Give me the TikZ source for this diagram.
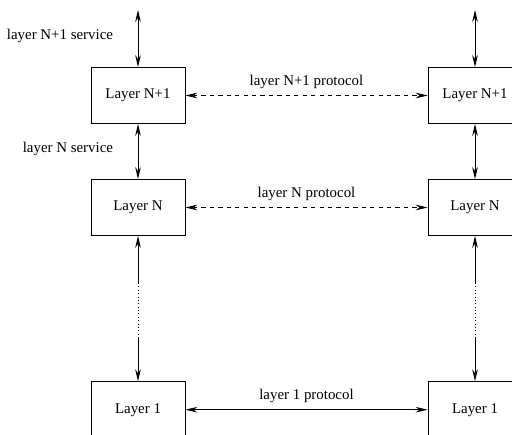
\documentclass[tikz,border=0pt]{standalone}
\usepackage{fontspec}
\setmainfont{Liberation Serif}
\usetikzlibrary{arrows.meta}

\begin{document}
\begin{tikzpicture}[x=0.025cm,y=-0.025cm,
		layer/.style={draw, line width=0.6pt, minimum width=2.35cm, minimum height=1.4cm, inner sep=0pt},
		link/.style={{Stealth[length=8.5pt,width=4pt]}-{Stealth[length=8.5pt,width=4pt]}, line width=0.6pt},
		down/.style={-{Stealth[length=8.5pt,width=4pt]}, line width=0.6pt},
		every node/.style={font=\fontsize{10.6}{12}\selectfont}]
			\clip (0,0) rectangle (512,434);
			\node[layer] (l3) at (138,95.5) {Layer N+1};
			\node[layer] (r3) at (475,95.5) {Layer N+1};
			\node[layer] (l2) at (138,207.5) {Layer N};
			\node[layer] (r2) at (475,207.5) {Layer N};
			\node[layer] (l1) at (138,409.7) {Layer 1};
			\node[layer] (r1) at (475,409.7) {Layer 1};
			\coordinate (lt) at (138,10);
			\coordinate (rt) at (475,10);
			\coordinate (ld1) at (138,283);
			\coordinate (ld2) at (138,337);
			\coordinate (rd1) at (475,283);
			\coordinate (rd2) at (475,337);
			\node[anchor=east] (s3) at (118,36) {layer N+1 service};
			\node[anchor=east] (s2) at (118,149) {layer N service};
			% service access points
			\draw[link] (lt) -- (l3);
			\draw[link] (l3) -- (l2);
			\draw[link] (rt) -- (r3);
			\draw[link] (r3) -- (r2);
			\draw[down] (ld1) -- (l2);
			\draw[dotted, line width=0.4pt] (ld1) -- (ld2);
			\draw[down] (ld2) -- (l1);
			\draw[down] (rd1) -- (r2);
			\draw[dotted, line width=0.4pt] (rd1) -- (rd2);
			\draw[down] (rd2) -- (r1);
			% peer protocols
			\draw[link, dashed] (l3) -- node[above=1.5pt] (p3) {layer N+1 protocol} (r3);
			\draw[link, dashed] (l2) -- node[above=1.5pt] (p2) {layer N protocol} (r2);
			\draw[link] (l1) -- node[above=1.5pt] (p1) {layer 1 protocol} (r1);
		\end{tikzpicture}
\end{document}
